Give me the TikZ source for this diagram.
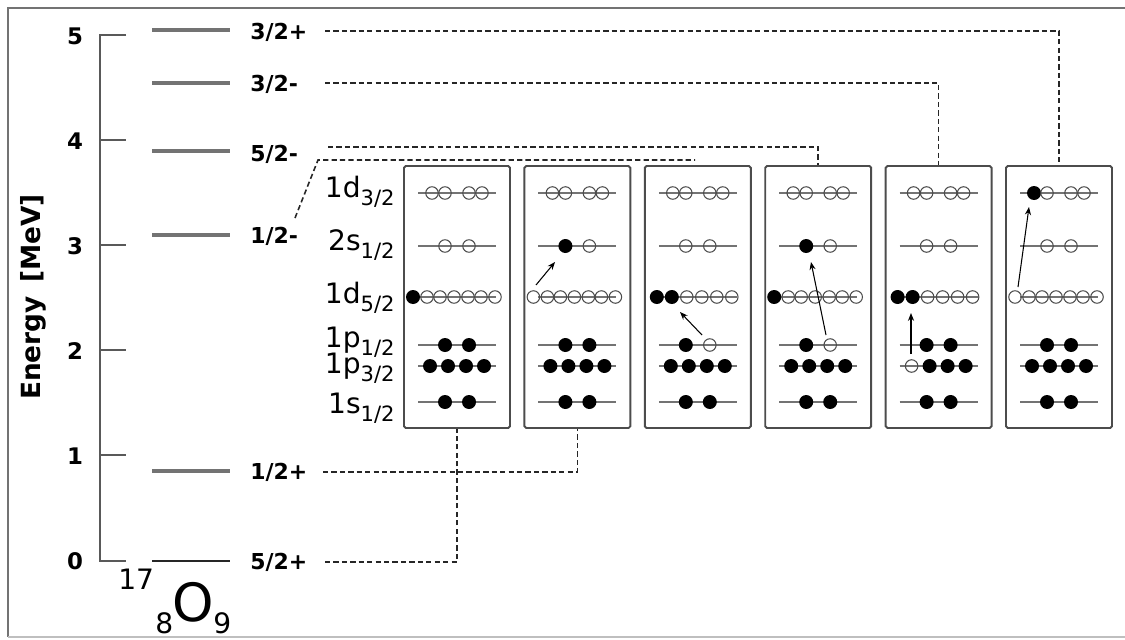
\documentclass[tikz,border=0pt]{standalone}
\usepackage{fontspec}
\setmainfont{DejaVu Sans}
\usetikzlibrary{arrows.meta}

\newcommand{\sbs}[1]{\raisebox{-5pt}{\fontsize{12}{13}\selectfont #1}}
% one shell in a box: centre x, level y, list of offset/style
\newcommand{\shell}[3]{%
  \draw[shl] (#1-39,#2) -- (#1+39,#2);
  \foreach \dx/\st in {#3} \path[\st] (#1+\dx,#2) circle;
}
% one box: name, centre x, then the six shells from top to bottom
\newcommand{\nucbox}[8]{%
  \node[nbox] (#1) at (#2,297) {};
  \shell{#2}{193}{#3}
  \shell{#2}{246}{#4}
  \shell{#2}{297}{#5}
  \shell{#2}{345}{#6}
  \shell{#2}{366}{#7}
  \shell{#2}{402}{#8}
}

\begin{document}
\begin{tikzpicture}[x=0.02cm,y=-0.02cm,
  nbox/.style={draw=black!70,line width=1.1pt,rounded corners=1pt,minimum width=2.12cm,minimum height=5.24cm},
  shl/.style={draw=black!55,line width=1pt},
  emp/.style={draw=black!70,line width=0.6pt,radius=0.125cm},
  ful/.style={fill=black,radius=0.14cm},
  lvl/.style={draw=black!55,line width=2pt},
  conn/.style={draw=black!85,line width=0.9pt,dash pattern=on 3pt off 1.8pt},
  exc/.style={draw=black,line width=0.6pt,-{Stealth[length=4.5pt,width=3.5pt]}},
  jlab/.style={anchor=west,inner sep=0pt,font=\fontsize{12.5}{14}\selectfont\bfseries},
  tlab/.style={inner sep=0pt,font=\fontsize{13}{15}\selectfont\bfseries},
  orb/.style={anchor=base east,inner sep=0pt,font=\fontsize{16}{18}\selectfont},
  axis/.style={draw=black!65,line width=1.1pt}]

\useasboundingbox (0,0) rectangle (1125,639);
\draw[black!55,line width=1.2pt] (1125,8) -- (8,8) -- (8,637);
\draw[black!25,line width=0.8pt] (8,637) -- (1125,637);

% energy axis
\draw[axis] (126,35) -- (100,35) -- (100,561) -- (126,561);
\foreach \y in {140,245,350,455} \draw[axis] (100,\y) -- (126,\y);
\node[tlab] (t5) at (75,36) {5};
\node[tlab] (t4) at (75,141) {4};
\node[tlab] (t3) at (75,246) {3};
\node[tlab] (t2) at (75,351) {2};
\node[tlab] (t1) at (75,456) {1};
\node[tlab] (t0) at (75,561) {0};
\node[rotate=90,font=\fontsize{15}{17}\selectfont\bfseries] (elab) at (33,297) {Energy \,[MeV]};

% levels
\draw[lvl] (152,30) -- (230,30);
\node[jlab] (l32p) at (250,32) {3/2+};
\draw[lvl] (152,83) -- (230,83);
\node[jlab] (l32m) at (250,84) {3/2-};
\draw[lvl] (152,151) -- (230,151);
\node[jlab] (l52m) at (250,154) {5/2-};
\draw[lvl] (152,235) -- (230,235);
\node[jlab] (l12m) at (250,236) {1/2-};
\draw[lvl] (152,471) -- (230,471);
\node[jlab] (l12p) at (250,472) {1/2+};
\draw[lvl,draw=black!85,line width=1.6pt] (152,561) -- (230,561);
\node[jlab] (l52p) at (250,562) {5/2+};

% nucleus
\node[anchor=base west,inner sep=0pt,font=\fontsize{16}{18}\selectfont] (amass) at (118,589) {17};
\node[anchor=base west,inner sep=0pt,font=\fontsize{30}{32}\selectfont] (elem) at (172,621) {O};
\node[anchor=base west,inner sep=0pt,font=\fontsize{16}{18}\selectfont] (zz) at (155,633) {8};
\node[anchor=base west,inner sep=0pt,font=\fontsize{16}{18}\selectfont] (nn) at (213,633) {9};

% shell labels
\node[orb] (o1) at (395,197) {1d\sbs{3/2}};
\node[orb] (o2) at (395,250) {2s\sbs{1/2}};
\node[orb] (o3) at (395,303) {1d\sbs{5/2}};
\node[orb] (o4) at (395,347) {1p\sbs{1/2}};
\node[orb] (o5) at (395,373) {1p\sbs{3/2}};
\node[orb] (o6) at (395,413) {1s\sbs{1/2}};

% configurations
\nucbox{b1}{457}{-25/emp,-12/emp,12/emp,25/emp}{-12/emp,12/emp}
  {-44/ful,-30/emp,-17/emp,-3/emp,11/emp,24/emp,38/emp}
  {-12/ful,12/ful}{-27/ful,-9/ful,9/ful,27/ful}{-12/ful,12/ful}
\nucbox{b2}{577.4}{-25/emp,-12/emp,12/emp,25/emp}{-12/ful,12/emp}
  {-44/emp,-30/emp,-17/emp,-3/emp,11/emp,24/emp,38/emp}
  {-12/ful,12/ful}{-27/ful,-9/ful,9/ful,27/ful}{-12/ful,12/ful}
\nucbox{b3}{697.8}{-25/emp,-12/emp,12/emp,25/emp}{-12/emp,12/emp}
  {-41/ful,-26/ful,-11/emp,4/emp,19/emp,34/emp}
  {-12/ful,12/emp}{-27/ful,-9/ful,9/ful,27/ful}{-12/ful,12/ful}
\nucbox{b4}{818.2}{-25/emp,-12/emp,12/emp,25/emp}{-12/ful,12/emp}
  {-44/ful,-30/emp,-17/emp,-3/emp,11/emp,24/emp,38/emp}
  {-12/ful,12/emp}{-27/ful,-9/ful,9/ful,27/ful}{-12/ful,12/ful}
\nucbox{b5}{938.6}{-25/emp,-12/emp,12/emp,25/emp}{-12/emp,12/emp}
  {-41/ful,-26/ful,-11/emp,4/emp,19/emp,34/emp}
  {-12/ful,12/ful}{-27/emp,-9/ful,9/ful,27/ful}{-12/ful,12/ful}
\nucbox{b6}{1059}{-25/ful,-12/emp,12/emp,25/emp}{-12/emp,12/emp}
  {-44/emp,-30/emp,-17/emp,-3/emp,11/emp,24/emp,38/emp}
  {-12/ful,12/ful}{-27/ful,-9/ful,9/ful,27/ful}{-12/ful,12/ful}

% excitations
\coordinate (a2) at (536,285); \coordinate (a2e) at (555,262);
\coordinate (a3) at (702,335); \coordinate (a3e) at (680,312);
\coordinate (a4) at (826,335); \coordinate (a4e) at (811,262);
\coordinate (a5) at (911,354); \coordinate (a5e) at (911,313);
\coordinate (a6) at (1018,287); \coordinate (a6e) at (1029,207);
\draw[exc] (a2) -- (a2e);
\draw[exc] (a3) -- (a3e);
\draw[exc] (a4) -- (a4e);
\draw[exc] (a5) -- (a5e);
\draw[exc] (a6) -- (a6e);

% level to configuration
\coordinate (c32p) at (325,31);
\coordinate (c32m) at (325,83);
\coordinate (c52m) at (328,147);
\coordinate (c12m) at (295,218);
\coordinate (k12m) at (318,160);
\coordinate (f12m) at (695,160);
\coordinate (c12p) at (323,472);
\coordinate (c52p) at (325,562);
\draw[conn] (c32p) -| (b6.north);
\draw[conn] (c32m) -| (b5.north);
\draw[conn] (c52m) -| (b4.north);
\draw[conn] (c12m) -- (k12m) -- (f12m);
\draw[conn] (c12p) -| (b2.south);
\draw[conn] (c52p) -| (b1.south);
\end{tikzpicture}
\end{document}
